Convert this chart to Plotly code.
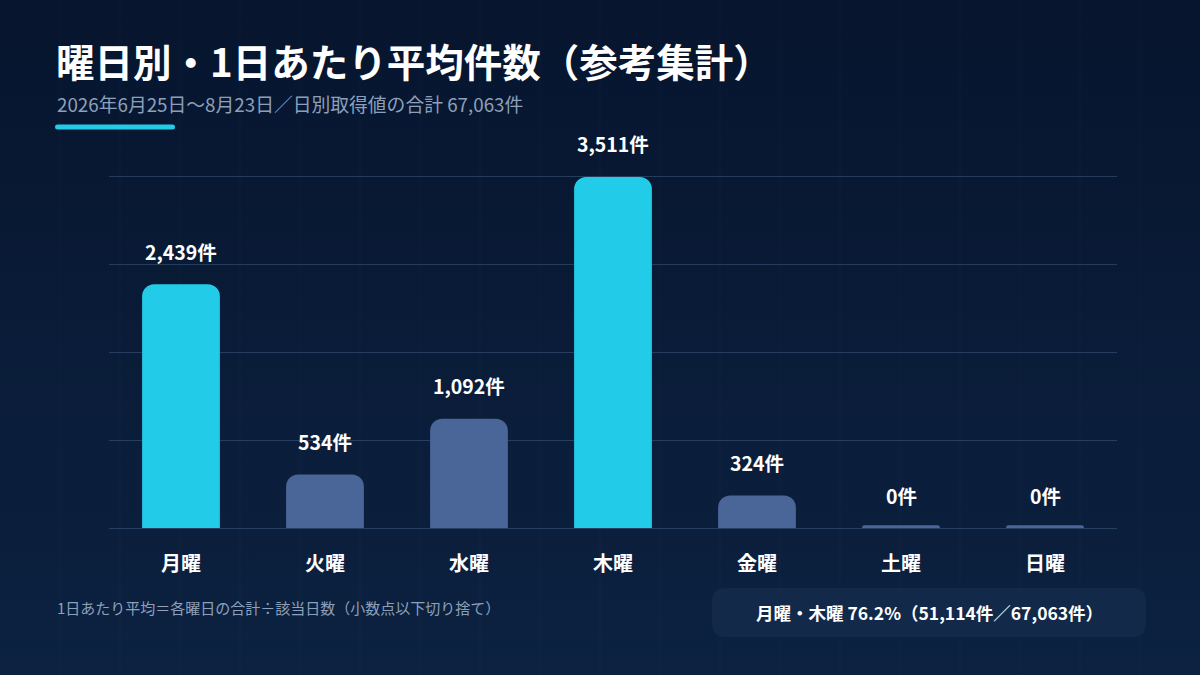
import base64
import plotly.graph_objects as go

# --- data ---
days = ['月曜', '火曜', '水曜', '木曜', '金曜', '土曜', '日曜']
avg_counts = [2439, 534, 1092, 3511, 324, 0, 0]
highlight_days = ['月曜', '木曜']

title_text = '曜日別・1日あたり平均件数（参考集計）'
subtitle_text = '2026年6月25日～8月23日／日別取得値の合計 67,063件'
note_text = '1日あたり平均＝各曜日の合計÷該当日数（小数点以下切り捨て）'
summary_text = '月曜・木曜 76.2%（51,114件／67,063件）'

# --- style ---
W, H = 1200, 675
FONT = 'Noto Sans CJK JP'
BG = '#0a1b35'
CYAN = '#22cbe8'
BLUE = '#4a6699'
GRID = 'rgba(110,150,195,0.28)'
Y_MAX = 3520
MIN_VISIBLE = Y_MAX * 0.008  # keep zero bars visible as a thin stub


def px(x, y):
    return x / W, 1 - y / H


def rounded_rect(xa, ya, xb, yb, r):
    # rounded rectangle path in paper coords, given pixel corners
    rx, ry = r / W, r / H
    x0, y1 = px(xa, ya)
    x1, y0 = px(xb, yb)
    return (f'M {x0 + rx},{y0} L {x1 - rx},{y0} Q {x1},{y0} {x1},{y0 + ry} '
            f'L {x1},{y1 - ry} Q {x1},{y1} {x1 - rx},{y1} '
            f'L {x0 + rx},{y1} Q {x0},{y1} {x0},{y1 - ry} '
            f'L {x0},{y0 + ry} Q {x0},{y0} {x0 + rx},{y0} Z')


colors = [CYAN if d in highlight_days else BLUE for d in days]
shown = [max(v, MIN_VISIBLE) for v in avg_counts]

fig = go.Figure()
fig.add_trace(go.Bar(
    x=days, y=shown, width=0.54,
    marker=dict(color=colors, cornerradius=12, line=dict(width=0)),
    hoverinfo='skip'
))

# value labels above bars
for d, v in zip(days, avg_counts):
    fig.add_annotation(
        x=d, y=v, xref='x', yref='y', text=f'{v:,}件',
        showarrow=False, yanchor='middle', yshift=33,
        font=dict(family=FONT, size=19.5, color='white', weight='bold')
    )

# background gradient
svg = ('<svg xmlns="http://www.w3.org/2000/svg" width="10" height="100" preserveAspectRatio="none">'
       '<defs><linearGradient id="g" x1="0" y1="0" x2="0" y2="1">'
       '<stop offset="0" stop-color="#07152e"/><stop offset="1" stop-color="#0c2241"/>'
       '</linearGradient></defs><rect width="10" height="100" fill="url(#g)"/></svg>')
bg_src = 'data:image/svg+xml;base64,' + base64.b64encode(svg.encode()).decode()

# background texture: faint vertical lines
shapes = []
for gx in range(60, W, 60):
    shapes.append(dict(type='line', xref='paper', yref='paper',
                       x0=gx / W, x1=gx / W, y0=0, y1=1, layer='below',
                       line=dict(color='rgba(255,255,255,0.025)', width=1)))

# accent underline under subtitle
shapes.append(dict(type='path', xref='paper', yref='paper',
                   path=rounded_rect(55, 124.5, 175, 129.5, 2.5),
                   fillcolor=CYAN, line=dict(width=0)))

# summary box
shapes.append(dict(type='path', xref='paper', yref='paper',
                   path=rounded_rect(712, 588, 1146, 637, 14),
                   fillcolor='#12294a', line=dict(width=0), layer='below'))

annotations = [
    dict(text=title_text, x=px(54, 0)[0], y=px(0, 60)[1], xanchor='left', yanchor='middle',
         font=dict(family=FONT, size=38.5, color='white', weight='bold')),
    dict(text=subtitle_text, x=px(55, 0)[0], y=px(0, 103)[1], xanchor='left', yanchor='middle',
         font=dict(family=FONT, size=18.8, color='#8da0bb')),
    dict(text=note_text, x=px(55, 0)[0], y=px(0, 607)[1], xanchor='left', yanchor='middle',
         font=dict(family=FONT, size=15, color='#8da0bb')),
    dict(text=summary_text, x=px(929, 0)[0], y=px(0, 612)[1], xanchor='center', yanchor='middle',
         font=dict(family=FONT, size=17.5, color='white', weight='bold')),
]
for a in annotations:
    a.update(xref='paper', yref='paper', showarrow=False)
    fig.add_annotation(**a)

fig.update_layout(
    width=W, height=H,
    margin=dict(l=0, r=0, t=0, b=0),
    paper_bgcolor=BG, plot_bgcolor='rgba(0,0,0,0)',
    images=[dict(source=bg_src, xref='paper', yref='paper', x=0, y=1, sizex=1, sizey=1,
                 xanchor='left', yanchor='top', sizing='stretch', layer='below')],
    showlegend=False, bargap=0.46,
    shapes=shapes,
    font=dict(family=FONT, color='white'),
    xaxis=dict(domain=[109 / W, 1117 / W], showgrid=False, zeroline=False, showline=False,
               ticks='', ticklabelstandoff=22, fixedrange=True,
               tickfont=dict(family=FONT, size=20, color='white', weight='bold')),
    yaxis=dict(domain=[1 - 528 / H, 1 - 175 / H], range=[0, Y_MAX * 1.003], fixedrange=True,
               tickvals=[880, 1760, 2640, 3520], showticklabels=False,
               gridcolor=GRID, gridwidth=1, zeroline=True, zerolinecolor=GRID, zerolinewidth=1),
)

fig.write_html('out.html', config={'displayModeBar': False},
               post_script="document.body.style.margin='0';document.body.style.background='#0a1b35';")
